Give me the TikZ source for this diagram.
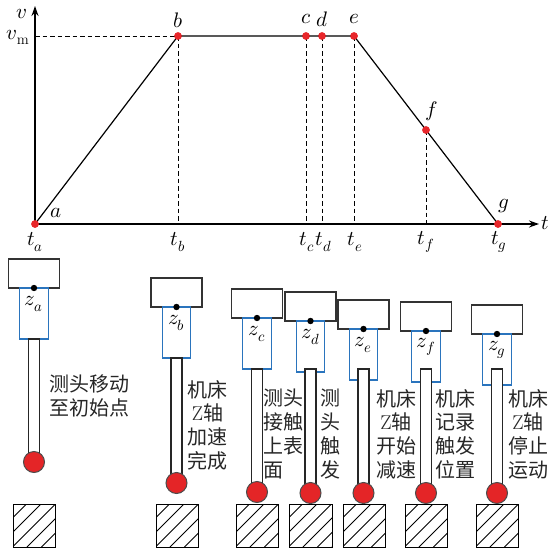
\documentclass[tikz,border=0pt]{standalone}
\usepackage{fontspec}
\usepackage{unicode-math}
\newfontfamily\cjk{Noto Sans CJK SC}
\usetikzlibrary{arrows.meta}
\definecolor{ptred}{HTML}{E8262A}
\definecolor{ballred}{HTML}{E42527}
\definecolor{bodyblue}{HTML}{2A74BD}
\tikzset{
  axis/.style={line width=1.5pt, -{Stealth[length=10pt,width=7pt]}},
  curve/.style={line width=1.2pt},
  guide/.style={line width=1pt, dash pattern=on 4.5pt off 3pt},
  vpt/.style={circle, fill=ptred, inner sep=0pt, minimum size=7.5pt},
  lab/.style={font=\fontsize{21}{23}\selectfont, inner sep=0pt},
  headbox/.style={draw=black!80, line width=1.4pt, fill=white},
  bodybox/.style={draw=bodyblue, line width=1.3pt, fill=white},
  stembox/.style={draw=black!85, line width=1.2pt, fill=white},
  ballst/.style={fill=ballred, draw=black!70, line width=1pt},
  hatch/.style={line width=1pt},
  wpbox/.style={draw, line width=1.4pt},
  note/.style={font=\cjk\fontsize{20}{23.7}\selectfont, align=center, inner sep=0pt, text=black!85},
}
% probe: centre x, head top y, ball centre y, stem top y, index
\newcommand\drawprobe[5]{%
  \draw[headbox] ({#1-25.5},#2) rectangle ({#1+25.5},{#2+29});
  \draw[bodybox] ({#1-14.25},{#2+29}) rectangle ({#1+14.25},{#2+80});
  \draw[stembox] ({#1-5.5},#4) rectangle ({#1+5.5},#3);
  \node[circle, ballst, minimum size=21pt, inner sep=0pt] (ball#5) at (#1,#3) {};
  \fill (#1,{#2+29}) circle (3.2pt);
  \node[lab] (z#5) at (#1,{#2+45}) {$z_{#5}$};
}
% hatched workpiece: left x, right x
\newcommand\drawpiece[3]{%
  \begin{scope}
    \clip (#1,504) rectangle (#2,547);
    \foreach \k in {1,...,6} \draw[hatch] ({#1+14.5*\k-1},504) -- ({#1+14.5*\k-44},547);
  \end{scope}
  \node[wpbox, minimum width={#2-#1}, minimum height=43pt, inner sep=0pt, anchor=north west] (w#3) at (#1,504) {};
}
\begin{document}
\begin{tikzpicture}[x=1pt,y=-1pt]
\useasboundingbox (0,0) rectangle (549,549);

% ---- velocity profile ----
\coordinate (O) at (35,224);
\coordinate (ytop) at (35,6);
\coordinate (xend) at (539,224);
\coordinate (vm) at (35,36);
\coordinate (tb) at (178,224);
\coordinate (tc) at (306,224);
\coordinate (td) at (322,224);
\coordinate (te) at (354,224);
\coordinate (tf) at (426,224);

\draw[axis] (O) -- (ytop);
\draw[axis] (O) -- (xend);

\node[vpt] (a) at (35,224) {};
\node[vpt] (b) at (178,36) {};
\node[vpt] (c) at (306,36) {};
\node[vpt] (d) at (322,36) {};
\node[vpt] (e) at (354,36) {};
\node[vpt] (f) at (426,130) {};
\node[vpt] (g) at (498,224) {};

\draw[guide] (vm) -- (b.center);
\draw[guide] (b.center) -- (tb);
\draw[guide] (c.center) -- (tc);
\draw[guide] (d.center) -- (td);
\draw[guide] (e.center) -- (te);
\draw[guide] (f.center) -- (tf);
\draw[curve] (a.center) -- (b.center) -- (e.center) -- (g.center);

\foreach \p in {a,b,c,d,e,f,g} \node[vpt] at (\p) {};

\node[lab] (lv) at (22,14) {$v$};
\node[lab] (lvm) at (18,37) {$v_{\mathrm{m}}$};
\node[lab] (lt) at (545,223) {$t$};
\node[lab] (la) at (56,213) {$a$};
\node[lab] (lb) at (178,20) {$b$};
\node[lab] (lc) at (306,19) {$c$};
\node[lab] (ld) at (322,19) {$d$};
\node[lab] (le) at (354,19) {$e$};
\node[lab] (lf) at (432,111) {$f$};
\node[lab] (lg) at (504,206) {$g$};

\node[lab] (lta) at (35,242) {$t_a$};
\node[lab] (ltb) at (178,242) {$t_b$};
\node[lab] (ltc) at (307,242) {$t_c$};
\node[lab] (ltd) at (324,242) {$t_d$};
\node[lab] (lte) at (355,242) {$t_e$};
\node[lab] (ltf) at (426,242) {$t_f$};
\node[lab] (ltg) at (499,242) {$t_g$};

% ---- workpieces ----
\drawpiece{13}{55}{a}
\drawpiece{156}{198}{b}
\drawpiece{236}{278}{c}
\drawpiece{289}{332}{d}
\drawpiece{343}{385}{e}
\drawpiece{405}{447}{f}
\drawpiece{476}{518}{g}

% ---- probes ----
\drawprobe{34}{259}{462}{339}{a}
\drawprobe{176.5}{278}{483}{358}{b}
\drawprobe{257}{289}{492}{369}{c}
\drawprobe{310.5}{292}{493}{369}{d}
\drawprobe{363.5}{300}{493}{369}{e}
\drawprobe{426}{302}{493}{369}{f}
\drawprobe{497}{305}{493}{369}{g}

% ---- stage notes ----
\node[note] (na) at (89,396) {测头移动\\至初始点};
\node[note] (nb) at (207.5,425) {机床\\{\rmfamily Z}轴\\加速\\完成};
\node[note, align=left, anchor=west] (nc) at (263,434) {测头\\接触\\上表\\面};
\node[note] (nd) at (330,434) {测\\头\\触\\发};
\node[note] (ne) at (396,434) {机床\\{\rmfamily Z}轴\\开始\\减速};
\node[note] (nf) at (455,434) {机床\\记录\\触发\\位置};
\node[note] (ng) at (528,434) {机床\\{\rmfamily Z}轴\\停止\\运动};
\end{tikzpicture}
\end{document}
